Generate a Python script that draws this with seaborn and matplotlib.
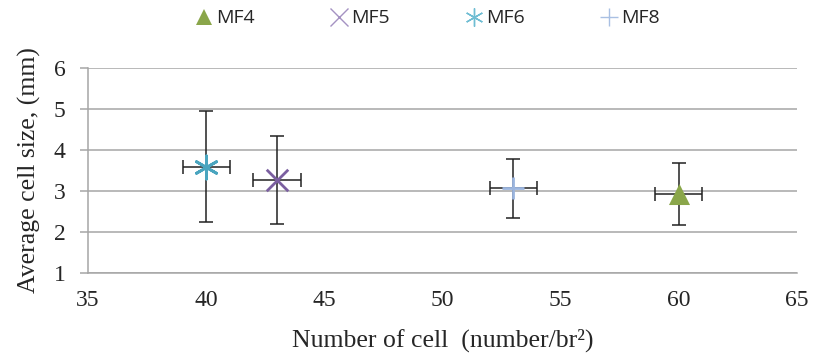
import numpy as np
import pandas as pd
import seaborn as sns
import matplotlib.pyplot as plt
from matplotlib.lines import Line2D

# values
series = ["MF4", "MF5", "MF6", "MF8"]
cells = [60, 43, 40, 53]
cell_err = [1, 1, 1, 1]
size = [2.93, 3.27, 3.59, 3.07]
size_err = [0.75, 1.07, 1.35, 0.72]

colors = {"MF4": "#8aa64a", "MF5": "#7b5fa0", "MF6": "#4aa5bf", "MF8": "#9bb5df"}
legend_colors = {"MF4": "#8aa64a", "MF5": "#a592c2", "MF6": "#6fbdd3", "MF8": "#a9c0e3"}
markers = {"MF4": "^", "MF5": "x", "MF6": (6, 2, 0), "MF8": "+"}
msize = {"MF4": 230, "MF5": 240, "MF6": 280, "MF8": 260}

df = pd.DataFrame({"series": series, "cells": cells, "cell_err": cell_err,
                   "size": size, "size_err": size_err})

sns.set_style("white")
plt.rcParams["font.family"] = ["Liberation Serif", "DejaVu Serif"]

fig = plt.figure(figsize=(8.16, 3.53), dpi=100)
ax = fig.add_axes([0.1078, 0.2266, 0.8689, 0.5808])

ax.errorbar(df["cells"], df["size"], xerr=df["cell_err"], yerr=df["size_err"],
            fmt="none", ecolor="#222222", elinewidth=1.1, capsize=5, capthick=1.1, zorder=2)

for _, r in df.iterrows():
    s = r["series"]
    kw = dict(marker=markers[s], s=msize[s], color=colors[s], zorder=3, legend=False)
    if s == "MF4":
        kw["edgecolor"] = colors[s]
        kw["linewidth"] = 0
    else:
        kw["linewidth"] = 2.0
    sns.scatterplot(x=[r["cells"]], y=[r["size"]], ax=ax, **kw)

ax.set_xlim(35, 65)
ax.set_ylim(1, 6)
ax.set_xticks(range(35, 66, 5))
ax.set_yticks(range(1, 7))
ax.yaxis.grid(True, color="#a6a6a6", linewidth=1.1)
ax.set_axisbelow(True)
for sp in ["top", "right"]:
    ax.spines[sp].set_visible(False)
for sp in ["left", "bottom"]:
    ax.spines[sp].set_color("#a6a6a6")
    ax.spines[sp].set_linewidth(1.1)
ax.tick_params(axis="y", length=6, width=1.1, color="#a6a6a6", pad=10, labelsize=17, direction="out", left=True)
ax.tick_params(axis="x", length=0, pad=12, labelsize=17)

ax.set_xlabel("Number of cell  (number/br²)", fontsize=18.5, labelpad=13)
ax.set_ylabel("Average cell size, (mm)", fontsize=18.5, labelpad=9)

handles = []
for s in series:
    if s == "MF4":
        h = Line2D([], [], linestyle="none", marker="^", markersize=12, color=legend_colors[s], markeredgewidth=0)
    else:
        h = Line2D([], [], linestyle="none", marker=markers[s], markersize=13, color=legend_colors[s], markeredgewidth=1.0)
    handles.append(h)
fig.legend(handles, series, loc="center", bbox_to_anchor=(0.522, 0.948), ncol=4, frameon=False,
           prop={"family": "Open Sans", "size": 14}, columnspacing=3.7, handletextpad=0.05, handlelength=1.2)

fig.savefig("out.png", dpi=100)
